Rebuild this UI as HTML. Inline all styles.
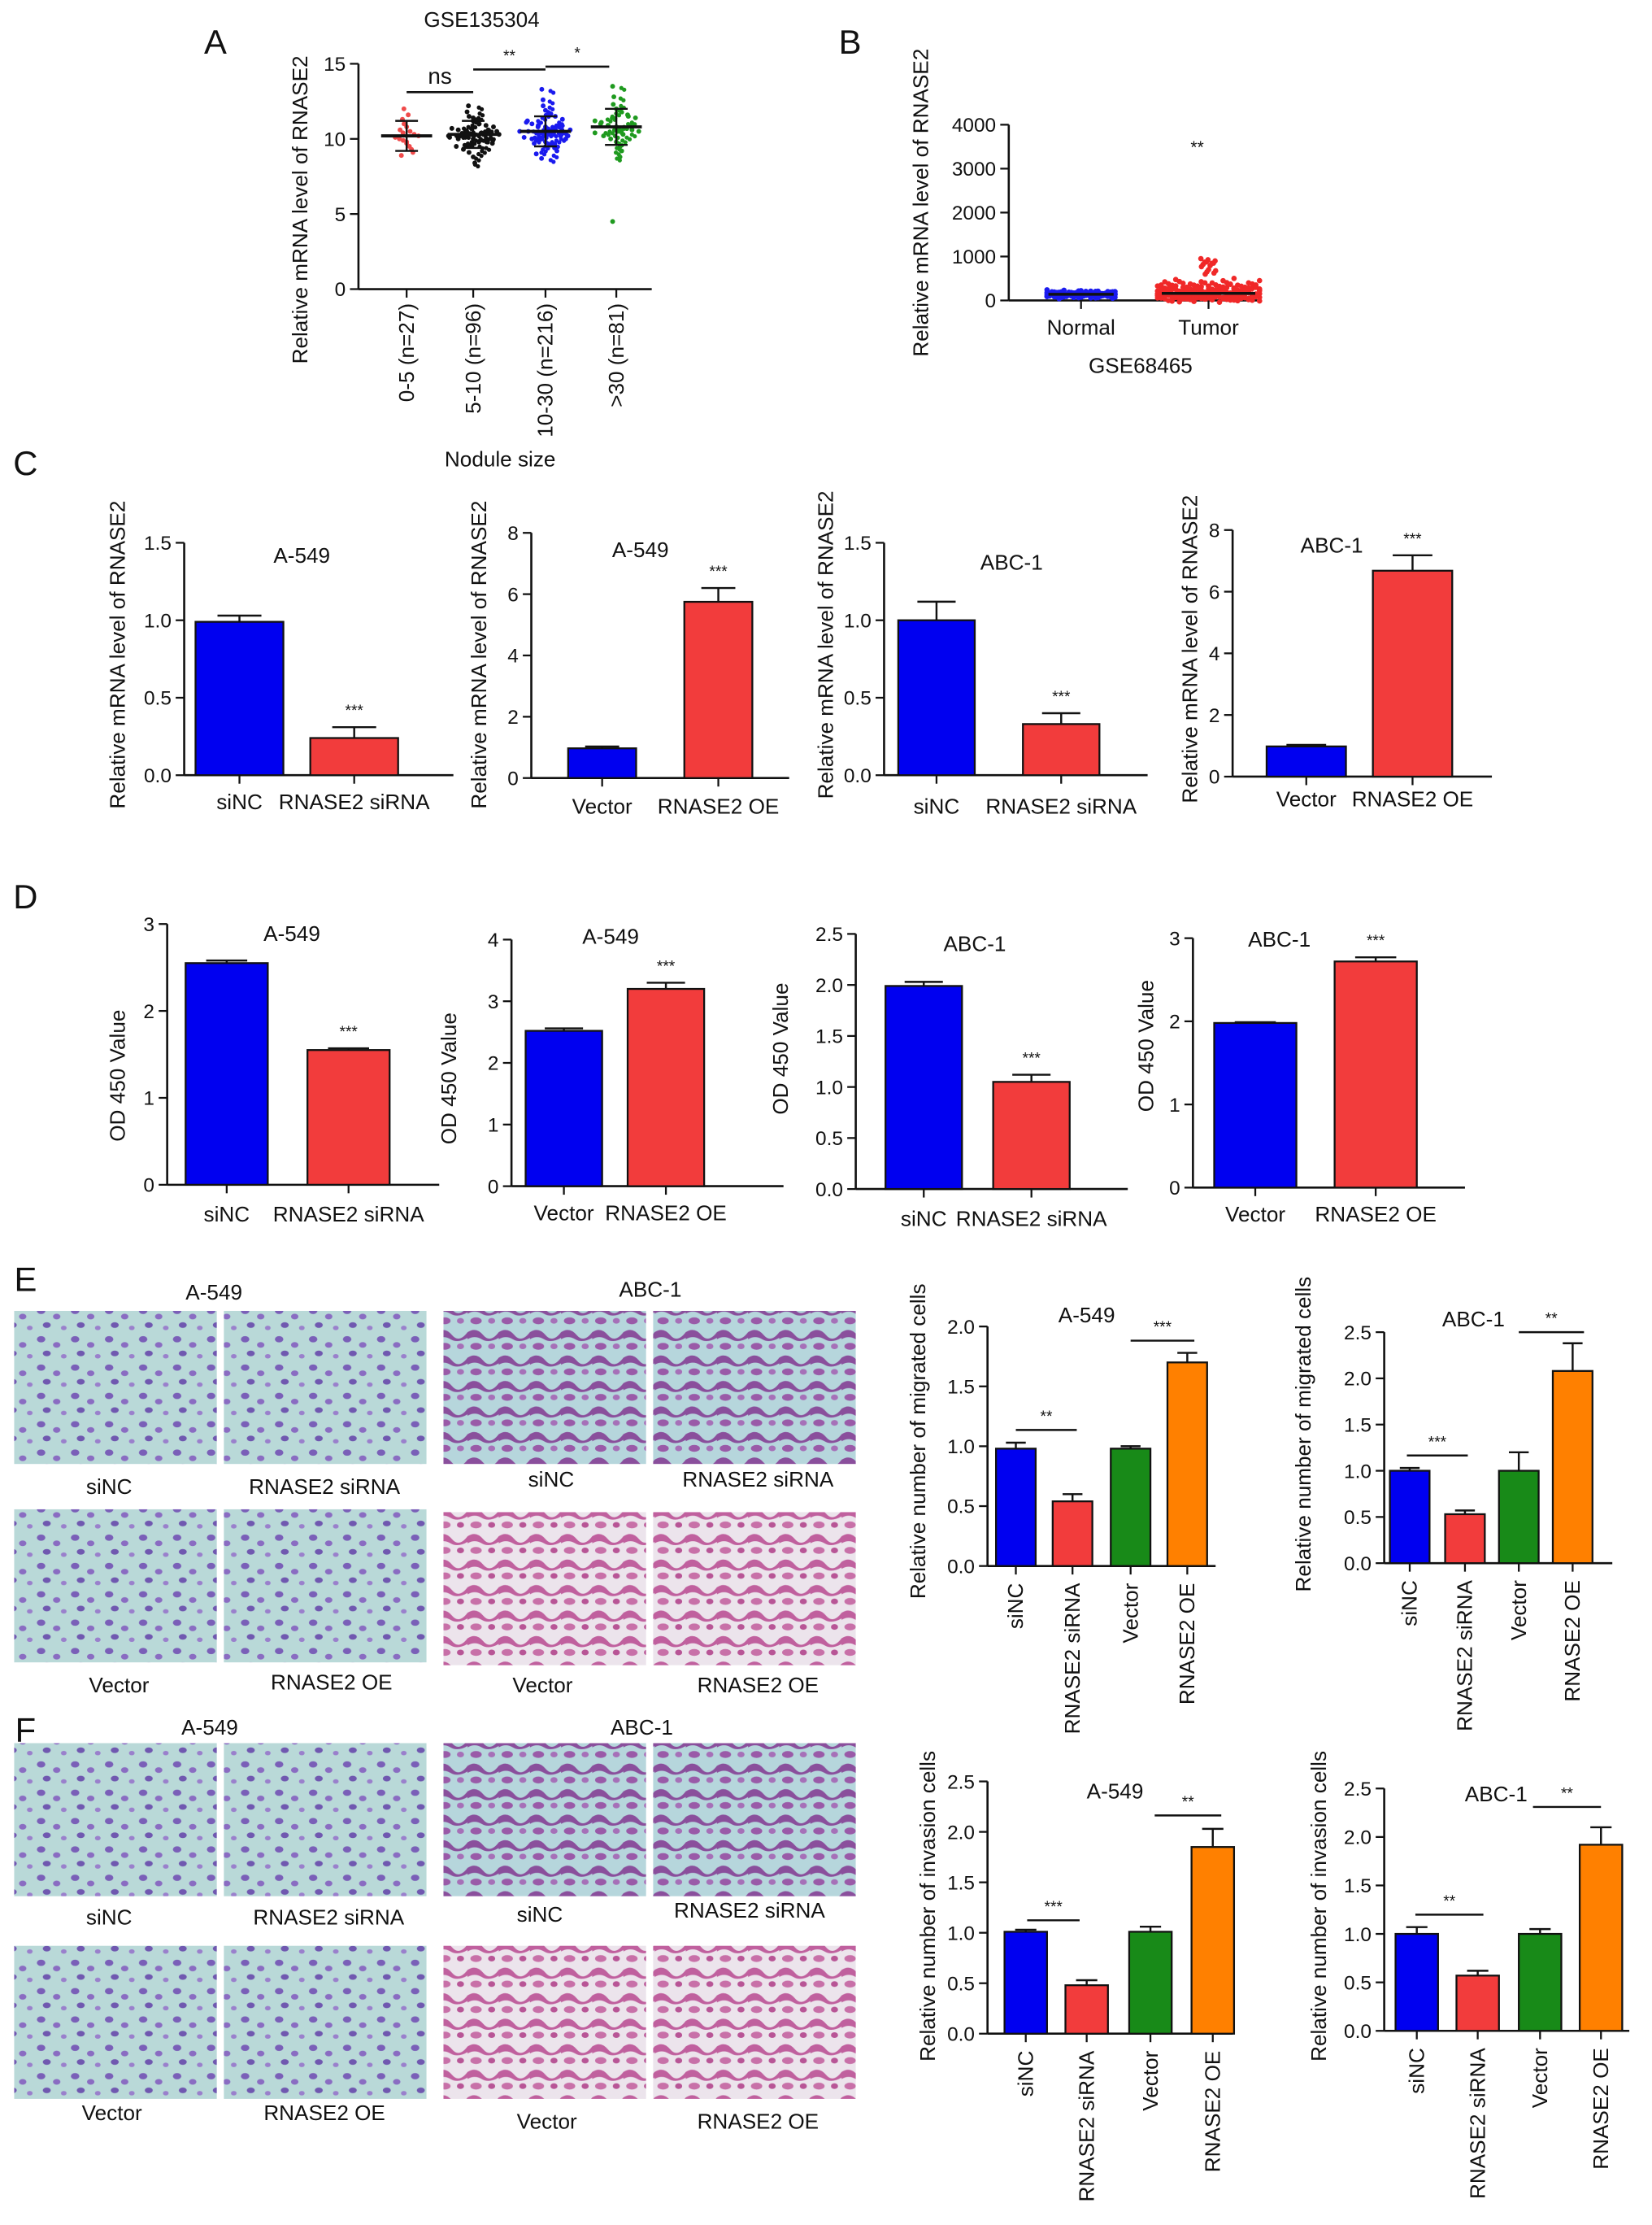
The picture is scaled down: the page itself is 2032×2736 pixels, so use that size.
<!DOCTYPE html>
<html><head><meta charset="utf-8"><style>
html,body{margin:0;padding:0;background:#fff;}
svg{display:block;}
text{font-family:"Liberation Sans",sans-serif;fill:#111;}
</style></head><body>
<svg id="fig" width="2032" height="2736" viewBox="0 0 1166 1570" xmlns="http://www.w3.org/2000/svg">
<defs>
<pattern id="pA" width="24" height="20" patternUnits="userSpaceOnUse">
<rect width="24" height="20" fill="#b9d9d8"/>
<ellipse cx="5" cy="5" rx="3" ry="2.2" fill="#7a5fb8"/><ellipse cx="16" cy="9" rx="2.6" ry="2" fill="#8a6cc2"/>
<ellipse cx="9" cy="15" rx="2.8" ry="2" fill="#7058b0"/><ellipse cx="21" cy="17" rx="2" ry="1.6" fill="#9a80cc"/>
</pattern>
<pattern id="pB" width="22" height="18" patternUnits="userSpaceOnUse">
<rect width="22" height="18" fill="#b6d6dc"/>
<path d="M0 4 Q6 0 11 6 T22 4 L22 8 Q15 12 10 9 T0 9Z" fill="#8a4f9c"/>
<ellipse cx="6" cy="14" rx="4" ry="2.4" fill="#9a5aa8"/><ellipse cx="17" cy="14" rx="2.5" ry="2" fill="#a670b8"/>
</pattern>
<pattern id="pC" width="22" height="18" patternUnits="userSpaceOnUse">
<rect width="22" height="18" fill="#ece4ec"/>
<path d="M0 4 Q6 0 11 6 T22 4 L22 8 Q15 12 10 9 T0 9Z" fill="#c0609e"/>
<ellipse cx="6" cy="14" rx="4" ry="2.4" fill="#c870a8"/><ellipse cx="17" cy="14" rx="2.5" ry="2" fill="#b85596"/>
</pattern>
</defs>
</svg>
<script>
// ---------- data ----------
const aCats=["0-5 (n=27)","5-10 (n=96)","10-30 (n=216)",">30 (n=81)"];
const aMeans=[10.2,10.3,10.5,10.8];
const aSD=[1.0,0.9,1.0,1.2];
const aG0=[12.0,11.3,11.0,10.8,10.5,10.3,10.2,10.1,10.0,9.9,9.7,9.5,9.3,9.1,8.9,10.6,10.4,9.8,11.6];
const aG1=[12.2,11.8,11.5,11.2,11.0,10.9,10.8,10.7,10.6,10.5,10.4,10.4,10.3,10.3,10.2,10.2,10.1,10.0,9.9,9.8,9.7,9.5,9.3,9.1,8.8,8.4,10.6,10.5,10.1,10.0,9.6,11.4];
const aG2=[13.3,12.6,12.2,11.9,11.7,11.5,11.3,11.1,11.0,10.9,10.8,10.7,10.6,10.6,10.5,10.5,10.4,10.4,10.3,10.3,10.2,10.1,10.0,9.9,9.8,9.6,9.4,9.2,9.0,8.7,10.8,10.6,10.4,10.2,10.0,11.2,9.7,10.9];
const aG3=[13.5,12.8,12.3,12.0,11.8,11.6,11.4,11.2,11.0,10.9,10.8,10.7,10.6,10.5,10.4,10.2,10.0,9.8,9.5,9.2,8.8,4.5,11.1,10.9,10.6,10.3,11.5];
const bCats=["Normal","Tumor"];
const bNormal=[190,180,170,160,150,145,140,135,130,125,120,115,110,100,90,160,150,140,130,120,110,145,135,155];
const bTumor=[900,820,650,450,400,380,350,320,300,280,260,240,220,200,190,180,170,150,130,110,90,70,50,30,10,300,250,200,150,100,340,270,230,210,160,120,80,60,40,20];
const cLabels1=["siNC","RNASE2 siRNA"], cLabels2=["Vector","RNASE2 OE"];
const c1Vals=[0.99,0.24], c1Err=[0.04,0.07];
const c2Vals=[0.97,5.75], c2Err=[0.06,0.45];
const c3Vals=[1.0,0.33], c3Err=[0.12,0.07];
const c4Vals=[0.98,6.68], c4Err=[0.05,0.5];
const d1Vals=[2.55,1.55], d1Err=[0.03,0.02];
const d2Vals=[2.52,3.2], d2Err=[0.04,0.1];
const d3Vals=[1.99,1.05], d3Err=[0.04,0.07];
const d4Vals=[1.98,2.72], d4Err=[0.01,0.05];
const eLabels=["siNC","RNASE2 siRNA","Vector","RNASE2 OE"];
const e1Vals=[0.98,0.54,0.98,1.7], e1Err=[0.05,0.06,0.02,0.08];
const e2Vals=[1.0,0.53,1.0,2.08], e2Err=[0.03,0.04,0.2,0.3];
const f1Vals=[1.01,0.48,1.01,1.85], f1Err=[0.02,0.05,0.05,0.18];
const f2Vals=[1.0,0.57,1.0,1.92], f2Err=[0.07,0.05,0.05,0.18];
const ticks15=[0,0.5,1.0,1.5], ticks8=[0,2,4,6,8], ticks3=[0,1,2,3], ticks4=[0,1,2,3,4], ticks25=[0,0.5,1.0,1.5,2.0,2.5], ticks2=[0,0.5,1.0,1.5,2.0];
// ---------- helpers ----------
const NS="http://www.w3.org/2000/svg";
const svg=document.getElementById('fig');
function mk(tag,at,parent){const e=document.createElementNS(NS,tag);for(const k in at)e.setAttribute(k,at[k]);(parent||svg).appendChild(e);return e;}
function txt(x,y,s,size,anchor,rot,name){const t=mk('text',{x:x,y:y,'font-size':size,'text-anchor':anchor||'middle'});if(rot)t.setAttribute('transform','rotate('+rot+' '+x+' '+y+')');t.textContent=s;


return t;}
function line(x1,y1,x2,y2,w,name){const l=mk('line',{x1:x1,y1:y1,x2:x2,y2:y2,stroke:'#111','stroke-width':w||1.4});


return l;}
function fmt(v,dec){return dec?v.toFixed(1):String(v);}
function axes(o){
  const sy=v=>o.y0-(v/o.max)*(o.y0-o.yTop);
  line(o.ax,o.yTop,o.ax,o.y0,1.5,'y-axis');
  line(o.ax,o.y0,o.x2,o.y0,1.5,'x-axis');
  o.ticks.forEach(t=>{const y=sy(t);line(o.ax-6,y,o.ax,y,1.3,'y-tick');txt(o.ax-9,y+5,fmt(t,o.dec),o.fs||14,'end',0,'y-tick-label');});
  if(o.ytitle)txt(o.ytx,o.yty,o.ytitle,o.tfs||15,'middle',-90,'y-axis-title');
  return sy;
}
function bars(o,sy,vals,errs,cols){
  vals.forEach((v,i)=>{const cx=o.cx[i],w=o.bw;const y=sy(v);
    const r=mk('rect',{x:cx-w/2,y:y,width:w,height:o.y0-y,fill:cols[i],stroke:'#111','stroke-width':1.3});
    
    
    const ye=sy(v+errs[i]);line(cx,y,cx,ye,1.4,'error-bar');line(cx-w*0.25,ye,cx+w*0.25,ye,1.4,'error-cap');
    line(cx,o.y0,cx,o.y0+6,1.3,'x-tick');
  });
}
const BL="#0000f0",RD="#f23c3c",GR="#188a18",OR="#ff8000";
function twoBar(o,vals,errs,labels){
  const sy=axes(o);bars(o,sy,vals,errs,[BL,RD]);
  labels.forEach((l,i)=>txt(o.cx[i],o.ly,l,15,'middle',0,'x-tick-label'));
  txt(o.tx,o.ty,o.title,15,'middle',0,'chart-title');
  txt(o.cx[1],sy(vals[1]+errs[1])-8,'***',11,'middle',0,'significance-mark');
}
function fourBar(o,vals,errs){
  const sy=axes(o);bars(o,sy,vals,errs,[BL,RD,GR,OR]);
  eLabels.forEach((l,i)=>txt(o.cx[i]+5,o.y0+12,l,15,'end',-90,'x-tick-label'));
  txt(o.tx,o.ty,o.title,15,'middle',0,'chart-title');
  o.sig.forEach(s=>{line(s[0],s[2],s[1],s[2],1.4,'significance-bar');txt((s[0]+s[1])/2,s[2]-6,s[3],11,'middle',0,'significance-mark');});
}
// ---------- panel letters ----------
[["A",152,38],["B",600,38],["C",18,335],["D",18,641],["E",18,911],["F",18,1229]].forEach(p=>txt(p[1],p[2],p[0],24,'middle',0,'panel-letter-'+p[0]));
// ---------- Panel A ----------
(function(){
  const o={ax:253,y0:204,yTop:45,x2:460,max:15,ticks:[0,5,10,15],fs:14,ytitle:"Relative mRNA level of RNASE2",ytx:217,yty:148};
  const sy=axes(o);const cx=[287,334,385,435];const cols=["#f04a4a","#111","#1a1aee","#1f9a1f"];
  [aG0,aG1,aG2,aG3].forEach((g,gi)=>{
    g.forEach((v,i)=>{const spread=Math.max(2,14-Math.abs(v-aMeans[gi])*6)*(gi==0?0.6:1.3);const dx=((i%7)-3)/3*spread;
      const c=mk('circle',{cx:cx[gi]+dx,cy:sy(v),r:1.7,fill:cols[gi]});
      
      
      for(let k=1;k<3&&gi>0&&v>6;k++){const c2=mk('circle',{cx:cx[gi]-dx*0.6+k*2,cy:sy(v)+k*1.2,r:1.5,fill:cols[gi]});
      
      }
    });
    const m=sy(aMeans[gi]);line(cx[gi]-18,m,cx[gi]+18,m,2.2,'median-line');
    line(cx[gi],sy(aMeans[gi]-aSD[gi]),cx[gi],sy(aMeans[gi]+aSD[gi]),1.4,'sd-bar');
    line(cx[gi]-8,sy(aMeans[gi]-aSD[gi]),cx[gi]+8,sy(aMeans[gi]-aSD[gi]),1.4,'sd-cap');
    line(cx[gi]-8,sy(aMeans[gi]+aSD[gi]),cx[gi]+8,sy(aMeans[gi]+aSD[gi]),1.4,'sd-cap');
    line(cx[gi],o.y0,cx[gi],o.y0+6,1.3,'x-tick');
    txt(cx[gi]+5,o.y0+10,aCats[gi],15,'end',-90,'x-tick-label');
  });
  txt(340,19,"GSE135304",15,'middle',0,'chart-title');
  txt(353,329,"Nodule size",15,'middle',0,'x-axis-title');
  [[287,334,65,"ns",16],[334,385,49,"**",11],[385,430,47,"*",11]].forEach(s=>{line(s[0],s[2],s[1],s[2],1.5,'significance-bar');txt((s[0]+s[1])/2,s[2]-6,s[3],s[4],'middle',0,'significance-mark');});
})();
// ---------- Panel B ----------
(function(){
  const o={ax:712,y0:212,yTop:88,x2:890,max:4000,ticks:[0,1000,2000,3000,4000],fs:14,ytitle:"Relative mRNA level of RNASE2",ytx:655,yty:143};
  const sy=axes(o);const cx=[763,853];
  [bNormal,bTumor].forEach((g,gi)=>{const col=gi?"#f02828":"#1a1aee";const sp=gi?36:24;
    g.forEach((v,i)=>{for(let k=0;k<5;k++){const f=v>500?0.15:1;const dx=(((i*7+k*13)%29)-14)/14*sp*f;
      const c=mk('circle',{cx:cx[gi]+dx,cy:sy(v)+(k-2)*0.8,r:1.9,fill:col});
      
      }});
    line(cx[gi],o.y0,cx[gi],o.y0+6,1.3,'x-tick');
    txt(cx[gi],236,bCats[gi],15,'middle',0,'x-tick-label');
  });
  line(740,sy(140),786,sy(140),2,'median-line');line(820,sy(160),886,sy(160),2,'median-line');
  txt(805,263,"GSE68465",15,'middle',0,'x-axis-title');
  txt(845,108,"**",12,'middle',0,'significance-mark');
})();
// ---------- Panel C ----------
const YT="Relative mRNA level of RNASE2";
twoBar({ax:130,y0:547,yTop:383,x2:320,max:1.5,ticks:ticks15,dec:1,ytitle:YT,ytx:88,yty:462,cx:[169,250],bw:62,ly:571,tx:213,ty:397,title:"A-549"},c1Vals,c1Err,cLabels1);
twoBar({ax:375,y0:549,yTop:376,x2:557,max:8,ticks:ticks8,ytitle:YT,ytx:343,yty:462,cx:[425,507],bw:48,ly:574,tx:452,ty:393,title:"A-549"},c2Vals,c2Err,cLabels2);
twoBar({ax:624,y0:547,yTop:383,x2:810,max:1.5,ticks:ticks15,dec:1,ytitle:YT,ytx:588,yty:455,cx:[661,749],bw:54,ly:574,tx:714,ty:402,title:"ABC-1"},c3Vals,c3Err,cLabels1);
twoBar({ax:870,y0:548,yTop:374,x2:1053,max:8,ticks:ticks8,ytitle:YT,ytx:845,yty:458,cx:[922,997],bw:56,ly:569,tx:940,ty:390,title:"ABC-1"},c4Vals,c4Err,cLabels2);
// ---------- Panel D ----------
const OD="OD 450 Value";
twoBar({ax:118,y0:836,yTop:652,x2:310,max:3,ticks:ticks3,ytitle:OD,ytx:88,yty:759,cx:[160,246],bw:58,ly:862,tx:206,ty:664,title:"A-549"},d1Vals,d1Err,cLabels1);
twoBar({ax:361,y0:837,yTop:663,x2:553,max:4,ticks:ticks4,ytitle:OD,ytx:322,yty:761,cx:[398,470],bw:54,ly:861,tx:431,ty:666,title:"A-549"},d2Vals,d2Err,cLabels2);
twoBar({ax:604,y0:839,yTop:659,x2:796,max:2.5,ticks:ticks25,dec:1,ytitle:OD,ytx:556,yty:740,cx:[652,728],bw:54,ly:865,tx:688,ty:671,title:"ABC-1"},d3Vals,d3Err,cLabels1);
twoBar({ax:842,y0:838,yTop:662,x2:1034,max:3,ticks:ticks3,ytitle:OD,ytx:814,yty:738,cx:[886,971],bw:58,ly:862,tx:903,ty:668,title:"ABC-1"},d4Vals,d4Err,cLabels2);
// ---------- micrographs ----------
function img(x,y,w,h,pat,name){const r=mk('rect',{x:x,y:y,width:w,height:h,fill:'url(#'+pat+')'});

}
[[925,1065,1067,"e"],[1230,1373,1373,"f"]].forEach(r=>{
  img(10,r[0],143,108,'pA',r[3]+'-a549-sinc');img(158,r[0],143,108,'pA',r[3]+'-a549-sirna');
  img(10,r[1],143,108,'pA',r[3]+'-a549-vector');img(158,r[1],143,108,'pA',r[3]+'-a549-oe');
  img(313,r[0],143,108,'pB',r[3]+'-abc1-sinc');img(461,r[0],143,108,'pB',r[3]+'-abc1-sirna');
  img(313,r[2],143,108,'pC',r[3]+'-abc1-vector');img(461,r[2],143,108,'pC',r[3]+'-abc1-oe');
});
[[151,917,"A-549"],[459,915,"ABC-1"],[77,1054,"siNC"],[229,1054,"RNASE2 siRNA"],[389,1049,"siNC"],[535,1049,"RNASE2 siRNA"],[84,1194,"Vector"],[234,1192,"RNASE2 OE"],[383,1194,"Vector"],[535,1194,"RNASE2 OE"],
 [148,1224,"A-549"],[453,1224,"ABC-1"],[77,1358,"siNC"],[232,1358,"RNASE2 siRNA"],[381,1356,"siNC"],[529,1353,"RNASE2 siRNA"],[79,1496,"Vector"],[229,1496,"RNASE2 OE"],[386,1502,"Vector"],[535,1502,"RNASE2 OE"]
].forEach(l=>txt(l[0],l[1],l[2],15,'middle',0,'image-caption'));
// ---------- Panel E/F charts ----------
fourBar({ax:697,y0:1105,yTop:936,x2:858,max:2,ticks:ticks2,dec:1,ytitle:"Relative number of migrated cells",ytx:653,yty:1017,cx:[717,757,798,838],bw:28,tx:767,ty:933,title:"A-549",sig:[[717,760,1009,"**"],[798,843,946,"***"]]},e1Vals,e1Err);
fourBar({ax:977,y0:1103,yTop:940,x2:1138,max:2.5,ticks:ticks25,dec:1,ytitle:"Relative number of migrated cells",ytx:925,yty:1012,cx:[995,1034,1072,1110],bw:28,tx:1040,ty:936,title:"ABC-1",sig:[[993,1036,1027,"***"],[1072,1118,940,"**"]]},e2Vals,e2Err);
fourBar({ax:697,y0:1435,yTop:1257,x2:870,max:2.5,ticks:ticks25,dec:1,ytitle:"Relative number of invasion cells",ytx:660,yty:1345,cx:[724,767,812,856],bw:30,tx:787,ty:1269,title:"A-549",sig:[[725,762,1355,"***"],[815,862,1281,"**"]]},f1Vals,f1Err);
fourBar({ax:977,y0:1433,yTop:1262,x2:1150,max:2.5,ticks:ticks25,dec:1,ytitle:"Relative number of invasion cells",ytx:936,yty:1345,cx:[1000,1043,1087,1130],bw:30,tx:1056,ty:1271,title:"ABC-1",sig:[[999,1047,1351,"**"],[1082,1130,1275,"**"]]},f2Vals,f2Err);
</script>
</body></html>
